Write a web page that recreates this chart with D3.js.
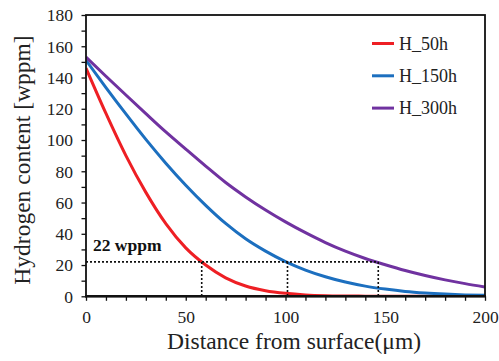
<!DOCTYPE html>
<html><head><meta charset="utf-8">
<script src="https://cdn.jsdelivr.net/npm/d3@7"></script>
<style>body{margin:0;background:#fff}svg{display:block}svg text{font-family:'Liberation Serif','Times New Roman',serif}</style>
</head><body><svg id="c" width="499" height="361"></svg>
<script>
const distance = [0,10,20,30,40,50,60,70,80,90,100,110,120,130,140,150,160,170,180,190,200];
const h50  = [146,117,90,66.5,46.5,31,20,11.8,6.6,3.6,1.9,0.9,0.4,0.2,0.1,0,0,0,0,0,0];
const h150 = [151,133.6,116.7,100.4,85.2,71.1,58.2,46.6,36.8,28.9,22.2,16.8,12.5,9.1,6.5,4.6,3.1,2.1,1.4,0.9,0.6];
const h300 = [153,140.8,128.8,116.9,105.2,94.2,83.3,72.8,63.6,55.2,47.6,40.7,34.4,28.9,24.2,20.2,16.5,13.3,10.5,8.1,6.0];
const seriesNames = ["H_50h","H_150h","H_300h"];
const seriesColors = ["#ee1f24","#1c6fbf","#7032a0"];
const xTicks = [0,50,100,150,200];
const yTicks = [0,20,40,60,80,100,120,140,160,180];
const threshold = 22;
const crossings = [58,101,146.5];
const annot = "22 wppm";

const svg = d3.select("#c");
const L=86,R=485,T=15,B=296.3;
const x = d3.scaleLinear().domain([0,200]).range([L,R]);
const y = d3.scaleLinear().domain([0,180]).range([B,T]);
const font = "'Liberation Serif','Times New Roman',serif";

// curves
svg.append("clipPath").attr("id","cp").append("rect")
  .attr("x",L).attr("y",T).attr("width",R-L).attr("height",B-T);
const line = d3.line().x((d,i)=>x(distance[i])).y(d=>y(d)).curve(d3.curveMonotoneX);
[h50,h150,h300].forEach((s,k)=>{
  svg.append("path").attr("d",line(s)).attr("fill","none")
    .attr("stroke",seriesColors[k]).attr("stroke-width",3).attr("clip-path","url(#cp)");
});

// dotted guides
const g = svg.append("g").attr("stroke","#111").attr("stroke-width",1.6).attr("stroke-dasharray","2,2").attr("fill","none");
g.append("line").attr("x1",x(0)).attr("x2",x(crossings[2])).attr("y1",y(threshold)).attr("y2",y(threshold));
crossings.forEach(c=>{
  g.append("line").attr("x1",x(c)).attr("x2",x(c)).attr("y1",y(threshold)).attr("y2",y(0));
});
svg.append("text").attr("x",x(3.5)).attr("y",y(threshold)-11).text(annot)
  .style("font-family",font).attr("font-weight","bold").attr("font-size",17.5).attr("fill","#111");

// axes
const xAxis = svg.append("g").attr("transform",`translate(0,${B})`)
  .call(d3.axisBottom(x).tickValues(d3.range(0,201,10)).tickSize(4.5).tickFormat(d=>xTicks.includes(d)?d:""));
const yAxis = svg.append("g").attr("transform",`translate(${L},0)`)
  .call(d3.axisLeft(y).tickValues(d3.range(0,181,10)).tickSize(4.5).tickFormat(d=>yTicks.includes(d)?d:""));
[xAxis,yAxis].forEach(a=>{
  a.attr("font-family",null);
  a.select(".domain").remove();
  a.selectAll("line").attr("stroke","#111").attr("stroke-width",1.3);
  a.selectAll("text").style("font-family",font).attr("font-size",17.5).attr("fill","#222");
});
xAxis.selectAll("text").attr("dy",null).attr("y",27);
yAxis.selectAll("text").attr("x",-13).attr("dy","0.33em");

// frame
svg.append("rect").attr("x",L).attr("y",T).attr("width",R-L).attr("height",B-T)
  .attr("fill","none").attr("stroke","#111").attr("stroke-width",1.8);
svg.append("line").attr("x1",L-1).attr("x2",R+1).attr("y1",B).attr("y2",B).attr("stroke","#111").attr("stroke-width",2.4);

// legend
seriesNames.forEach((n,k)=>{
  const yy = 43.5 + k*32.3;
  svg.append("line").attr("x1",372).attr("x2",394).attr("y1",yy).attr("y2",yy)
    .attr("stroke",seriesColors[k]).attr("stroke-width",3);
  svg.append("text").attr("x",399).attr("y",yy+6).text(n)
    .style("font-family",font).attr("font-size",18).attr("fill","#222");
});

// axis titles
svg.append("text").attr("x",294).attr("y",349).attr("text-anchor","middle")
  .text("Distance from surface(μm)").style("font-family",font).attr("font-size",23.5).attr("fill","#222");
svg.append("text").attr("transform","translate(30,160) rotate(-90)").attr("text-anchor","middle")
  .text("Hydrogen content [wppm]").style("font-family",font).attr("font-size",23.5).attr("fill","#222");
</script></body></html>
